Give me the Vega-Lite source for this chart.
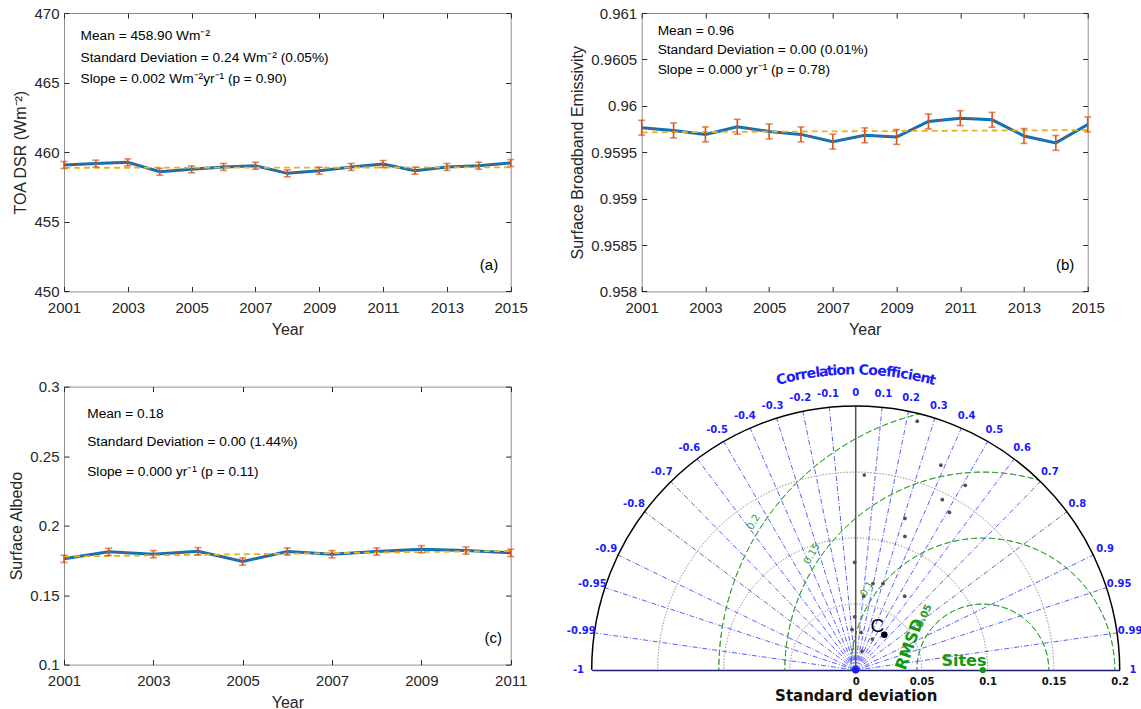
{
 "$schema": "https://vega.github.io/schema/vega-lite/v6.json",
 "background": "white",
 "padding": {"left": 8, "top": 5, "right": 0, "bottom": 0},
 "spacing": 24.6,
 "config": {
  "font": "Liberation Sans",
  "view": {"stroke": "#8f8f8f", "strokeWidth": 1},
  "axis": {"grid": false, "domain": false, "tickColor": "#262626", "tickSize": -5, "tickWidth": 1, "labelFont": "Liberation Sans", "labelFontSize": 15, "labelColor": "#262626", "titleFont": "Liberation Sans", "titleFontSize": 16, "titleFontWeight": "normal", "titleColor": "#262626", "labelFlush": false, "labelOverlap": false},
  "axisX": {"labelPadding": 14, "titlePadding": 6},
  "axisY": {"labelPadding": 10, "titlePadding": 5}
 },
 "vconcat": [
  {"bounds": "flush", "spacing": 130.7, "hconcat": [
   {
    "width": 446.7, "height": 278.4,
    "data": {"values": [
     {"year": 2001, "value": 459.08, "err": 0.25},
     {"year": 2002, "value": 459.18, "err": 0.25},
     {"year": 2003, "value": 459.27, "err": 0.25},
     {"year": 2004, "value": 458.60, "err": 0.25},
     {"year": 2005, "value": 458.77, "err": 0.25},
     {"year": 2006, "value": 458.94, "err": 0.25},
     {"year": 2007, "value": 459.03, "err": 0.25},
     {"year": 2008, "value": 458.48, "err": 0.25},
     {"year": 2009, "value": 458.67, "err": 0.25},
     {"year": 2010, "value": 458.94, "err": 0.25},
     {"year": 2011, "value": 459.15, "err": 0.25},
     {"year": 2012, "value": 458.67, "err": 0.25},
     {"year": 2013, "value": 458.94, "err": 0.25},
     {"year": 2014, "value": 459.03, "err": 0.25},
     {"year": 2015, "value": 459.22, "err": 0.25}
    ]},
    "resolve": {"axis": {"x": "independent", "y": "independent"}},
    "layer": [
     {"mark": {"type": "line", "color": "#0072BD", "strokeWidth": 3},
      "encoding": {
       "x": {"field": "year", "type": "quantitative", "scale": {"domain": [2001, 2015], "nice": false, "zero": false}, "axis": {"values": [2001, 2003, 2005, 2007, 2009, 2011, 2013, 2015], "format": "d", "title": "Year"}},
       "y": {"field": "value", "type": "quantitative", "scale": {"domain": [450, 470], "nice": false, "zero": false}, "axis": {"values": [450, 455, 460, 465, 470], "format": "d", "title": "TOA DSR (Wm⁻²)"}}
      }},
     {"mark": {"type": "line", "color": "#D95319", "strokeWidth": 1, "strokeDash": [1, 1.5]},
      "encoding": {
       "x": {"field": "year", "type": "quantitative", "axis": {"orient": "top", "labels": false, "title": null, "values": [2001, 2003, 2005, 2007, 2009, 2011, 2013, 2015]}},
       "y": {"field": "value", "type": "quantitative", "axis": {"orient": "right", "labels": false, "title": null, "values": [450, 455, 460, 465, 470]}}
      }},
     {"data": {"values": [{"year": 2001, "trend": 458.88}, {"year": 2015, "trend": 458.91}]},
      "mark": {"type": "line", "color": "#EDB120", "strokeWidth": 1.8, "strokeDash": [6, 4]},
      "encoding": {"x": {"field": "year", "type": "quantitative", "axis": null}, "y": {"field": "trend", "type": "quantitative", "axis": null}}},
     {"mark": {"type": "errorbar", "color": "#D95319", "thickness": 1.6, "ticks": {"size": 7, "thickness": 1.6, "color": "#D95319"}, "rule": {"strokeWidth": 1.6, "color": "#D95319"}},
      "encoding": {"x": {"field": "year", "type": "quantitative", "axis": null}, "y": {"field": "value", "type": "quantitative", "axis": null}, "yError": {"field": "err"}}},
     {"data": {"values": [
       {"x": 2001.52, "y": 468.32, "t": "Mean = 458.90 Wm⁻²"},
       {"x": 2001.52, "y": 466.79, "t": "Standard Deviation = 0.24 Wm⁻² (0.05%)"},
       {"x": 2001.52, "y": 465.29, "t": "Slope = 0.002 Wm⁻²yr⁻¹ (p = 0.90)"}
      ]},
      "mark": {"type": "text", "align": "left", "baseline": "middle", "fontSize": 13.7, "color": "#000000"},
      "encoding": {"x": {"field": "x", "type": "quantitative", "axis": null}, "y": {"field": "y", "type": "quantitative", "axis": null}, "text": {"field": "t"}}},
     {"data": {"values": [{"x": 2014.32, "y": 451.9, "t": "(a)"}]},
      "mark": {"type": "text", "align": "center", "baseline": "middle", "fontSize": 15, "color": "#000000"},
      "encoding": {"x": {"field": "x", "type": "quantitative", "axis": null}, "y": {"field": "y", "type": "quantitative", "axis": null}, "text": {"field": "t"}}}
    ]
   },
   {
    "width": 446, "height": 278.4,
    "data": {"values": [
     {"year": 2001, "value": 0.959764, "err": 0.00008},
     {"year": 2002, "value": 0.959735, "err": 0.00008},
     {"year": 2003, "value": 0.959692, "err": 0.00008},
     {"year": 2004, "value": 0.959774, "err": 0.00008},
     {"year": 2005, "value": 0.959724, "err": 0.00008},
     {"year": 2006, "value": 0.959692, "err": 0.00008},
     {"year": 2007, "value": 0.959614, "err": 0.00008},
     {"year": 2008, "value": 0.959682, "err": 0.00008},
     {"year": 2009, "value": 0.959664, "err": 0.00008},
     {"year": 2010, "value": 0.959831, "err": 0.00008},
     {"year": 2011, "value": 0.959867, "err": 0.00008},
     {"year": 2012, "value": 0.959849, "err": 0.00008},
     {"year": 2013, "value": 0.959675, "err": 0.00008},
     {"year": 2014, "value": 0.959600, "err": 0.00008},
     {"year": 2015, "value": 0.959799, "err": 0.00008}
    ]},
    "resolve": {"axis": {"x": "independent", "y": "independent"}},
    "layer": [
     {"mark": {"type": "line", "color": "#0072BD", "strokeWidth": 3},
      "encoding": {
       "x": {"field": "year", "type": "quantitative", "scale": {"domain": [2001, 2015], "nice": false, "zero": false}, "axis": {"values": [2001, 2003, 2005, 2007, 2009, 2011, 2013, 2015], "format": "d", "title": "Year"}},
       "y": {"field": "value", "type": "quantitative", "scale": {"domain": [0.958, 0.961], "nice": false, "zero": false}, "axis": {"values": [0.958, 0.9585, 0.959, 0.9595, 0.96, 0.9605, 0.961], "format": "~g", "title": "Surface Broadband Emissivity"}}
      }},
     {"mark": {"type": "line", "color": "#D95319", "strokeWidth": 1, "strokeDash": [1, 1.5]},
      "encoding": {
       "x": {"field": "year", "type": "quantitative", "axis": {"orient": "top", "labels": false, "title": null, "values": [2001, 2003, 2005, 2007, 2009, 2011, 2013, 2015]}},
       "y": {"field": "value", "type": "quantitative", "axis": {"orient": "right", "labels": false, "title": null, "values": [0.958, 0.9585, 0.959, 0.9595, 0.96, 0.9605, 0.961]}}
      }},
     {"data": {"values": [{"year": 2001, "trend": 0.959714}, {"year": 2015, "trend": 0.959739}]},
      "mark": {"type": "line", "color": "#EDB120", "strokeWidth": 1.8, "strokeDash": [6, 4]},
      "encoding": {"x": {"field": "year", "type": "quantitative", "axis": null}, "y": {"field": "trend", "type": "quantitative", "axis": null}}},
     {"mark": {"type": "errorbar", "color": "#D95319", "thickness": 1.6, "ticks": {"size": 7, "thickness": 1.6, "color": "#D95319"}, "rule": {"strokeWidth": 1.6, "color": "#D95319"}},
      "encoding": {"x": {"field": "year", "type": "quantitative", "axis": null}, "y": {"field": "value", "type": "quantitative", "axis": null}, "yError": {"field": "err"}}},
     {"data": {"values": [
       {"x": 2001.5, "y": 0.960802, "t": "Mean = 0.96"},
       {"x": 2001.5, "y": 0.960605, "t": "Standard Deviation = 0.00 (0.01%)"},
       {"x": 2001.5, "y": 0.960381, "t": "Slope = 0.000 yr⁻¹ (p = 0.78)"}
      ]},
      "mark": {"type": "text", "align": "left", "baseline": "middle", "fontSize": 13.7, "color": "#000000"},
      "encoding": {"x": {"field": "x", "type": "quantitative", "axis": null}, "y": {"field": "y", "type": "quantitative", "axis": null}, "text": {"field": "t"}}},
     {"data": {"values": [{"x": 2014.29, "y": 0.95828, "t": "(b)"}]},
      "mark": {"type": "text", "align": "center", "baseline": "middle", "fontSize": 15, "color": "#000000"},
      "encoding": {"x": {"field": "x", "type": "quantitative", "axis": null}, "y": {"field": "y", "type": "quantitative", "axis": null}, "text": {"field": "t"}}}
    ]
   }
  ]},
  {"bounds": "flush", "spacing": 80.7, "hconcat": [
   {
    "width": 446.7, "height": 278,
    "data": {"values": [
     {"year": 2001, "value": 0.17608, "err": 0.0026},
     {"year": 2002, "value": 0.18110, "err": 0.0026},
     {"year": 2003, "value": 0.17943, "err": 0.0026},
     {"year": 2004, "value": 0.18158, "err": 0.0026},
     {"year": 2005, "value": 0.17416, "err": 0.0026},
     {"year": 2006, "value": 0.18134, "err": 0.0026},
     {"year": 2007, "value": 0.17943, "err": 0.0026},
     {"year": 2008, "value": 0.18134, "err": 0.0026},
     {"year": 2009, "value": 0.18301, "err": 0.0026},
     {"year": 2010, "value": 0.18206, "err": 0.0026},
     {"year": 2011, "value": 0.18038, "err": 0.0026}
    ]},
    "resolve": {"axis": {"x": "independent", "y": "independent"}},
    "layer": [
     {"mark": {"type": "line", "color": "#0072BD", "strokeWidth": 3},
      "encoding": {
       "x": {"field": "year", "type": "quantitative", "scale": {"domain": [2001, 2011], "nice": false, "zero": false}, "axis": {"values": [2001, 2003, 2005, 2007, 2009, 2011], "format": "d", "title": "Year"}},
       "y": {"field": "value", "type": "quantitative", "scale": {"domain": [0.1, 0.3], "nice": false, "zero": false}, "axis": {"values": [0.1, 0.15, 0.2, 0.25, 0.3], "format": "~g", "title": "Surface Albedo"}}
      }},
     {"mark": {"type": "line", "color": "#D95319", "strokeWidth": 1, "strokeDash": [1, 1.5]},
      "encoding": {
       "x": {"field": "year", "type": "quantitative", "axis": {"orient": "top", "labels": false, "title": null, "values": [2001, 2003, 2005, 2007, 2009, 2011]}},
       "y": {"field": "value", "type": "quantitative", "axis": {"orient": "right", "labels": false, "title": null, "values": [0.1, 0.15, 0.2, 0.25, 0.3]}}
      }},
     {"data": {"values": [{"year": 2001, "trend": 0.17775}, {"year": 2011, "trend": 0.1818}]},
      "mark": {"type": "line", "color": "#EDB120", "strokeWidth": 1.8, "strokeDash": [6, 4]},
      "encoding": {"x": {"field": "year", "type": "quantitative", "axis": null}, "y": {"field": "trend", "type": "quantitative", "axis": null}}},
     {"mark": {"type": "errorbar", "color": "#D95319", "thickness": 1.6, "ticks": {"size": 7, "thickness": 1.6, "color": "#D95319"}, "rule": {"strokeWidth": 1.6, "color": "#D95319"}},
      "encoding": {"x": {"field": "year", "type": "quantitative", "axis": null}, "y": {"field": "value", "type": "quantitative", "axis": null}, "yError": {"field": "err"}}},
     {"data": {"values": [
       {"x": 2001.52, "y": 0.2803, "t": "Mean = 0.18"},
       {"x": 2001.52, "y": 0.2604, "t": "Standard Deviation = 0.00 (1.44%)"},
       {"x": 2001.52, "y": 0.2383, "t": "Slope = 0.000 yr⁻¹ (p = 0.11)"}
      ]},
      "mark": {"type": "text", "align": "left", "baseline": "middle", "fontSize": 13.7, "color": "#000000"},
      "encoding": {"x": {"field": "x", "type": "quantitative", "axis": null}, "y": {"field": "y", "type": "quantitative", "axis": null}, "text": {"field": "t"}}},
     {"data": {"values": [{"x": 2010.61, "y": 0.1189, "t": "(c)"}]},
      "mark": {"type": "text", "align": "center", "baseline": "middle", "fontSize": 15, "color": "#000000"},
      "encoding": {"x": {"field": "x", "type": "quantitative", "axis": null}, "y": {"field": "y", "type": "quantitative", "axis": null}, "text": {"field": "t"}}}
    ]
   },
   {
    "width": 528, "height": 283.5,
    "view": {"stroke": null},
    "layer": [
     {"data": {"values": [{"cx": 0, "cy": 0, "r": 0.05, "t0": -90, "t1": 90}]},
      "mark": {"type": "arc", "filled": false, "stroke": "#9a9a9a", "strokeWidth": 1, "strokeDash": [1, 2], "strokeDashOffset": 0.155},
      "encoding": {
       "x": {"field": "cx", "type": "quantitative", "scale": {"domain": [-0.2, 0.2], "nice": false, "zero": false}, "axis": {"values": [0, 0.05, 0.1, 0.15, 0.2], "format": "~g", "ticks": false, "domain": true, "domainColor": "#1f1f6b", "domainWidth": 1.5, "labelFont": "DejaVu Sans", "labelFontWeight": "bold", "labelFontSize": 10, "labelColor": "#111111", "labelPadding": 6, "title": "Standard deviation", "titleFont": "DejaVu Sans", "titleFontWeight": "bold", "titleFontSize": 15, "titleColor": "#111111", "titlePadding": 2}},
       "y": {"field": "cy", "type": "quantitative", "scale": {"domain": [0, 0.21477], "nice": false, "zero": false}, "axis": null},
       "theta": {"field": "t0", "type": "quantitative", "stack": null, "scale": {"type": "linear", "domain": [-90, 90], "range": [-1.5707963, 1.5707963]}},
       "theta2": {"field": "t1"},
       "radius": {"field": "r", "type": "quantitative", "scale": {"type": "linear", "domain": [0, 0.2], "range": [0, 264], "zero": true}},
       "radius2": {"field": "r"}
      }},
     {"data": {"values": [{"cx": 0, "cy": 0, "r": 0.1, "t0": -90, "t1": 90}]},
      "mark": {"type": "arc", "filled": false, "stroke": "#9a9a9a", "strokeWidth": 1, "strokeDash": [1, 2], "strokeDashOffset": 1.31},
      "encoding": {
       "x": {"field": "cx", "type": "quantitative"}, "y": {"field": "cy", "type": "quantitative"},
       "theta": {"field": "t0", "type": "quantitative", "stack": null, "scale": {"type": "linear", "domain": [-90, 90], "range": [-1.5707963, 1.5707963]}},
       "theta2": {"field": "t1"},
       "radius": {"field": "r", "type": "quantitative", "scale": {"type": "linear", "domain": [0, 0.2], "range": [0, 264], "zero": true}},
       "radius2": {"field": "r"}
      }},
     {"data": {"values": [{"cx": 0, "cy": 0, "r": 0.15, "t0": -90, "t1": 90}]},
      "mark": {"type": "arc", "filled": false, "stroke": "#9a9a9a", "strokeWidth": 1, "strokeDash": [1, 2], "strokeDashOffset": 0.965},
      "encoding": {
       "x": {"field": "cx", "type": "quantitative"}, "y": {"field": "cy", "type": "quantitative"},
       "theta": {"field": "t0", "type": "quantitative", "stack": null, "scale": {"type": "linear", "domain": [-90, 90], "range": [-1.5707963, 1.5707963]}},
       "theta2": {"field": "t1"},
       "radius": {"field": "r", "type": "quantitative", "scale": {"type": "linear", "domain": [0, 0.2], "range": [0, 264], "zero": true}},
       "radius2": {"field": "r"}
      }},
     {"data": {"values": [{"cx": 0.0963, "cy": 0, "r": 0.05, "t0": -90, "t1": 90}]},
      "mark": {"type": "arc", "filled": false, "stroke": "#3aa63a", "strokeWidth": 1, "strokeDash": [6, 3], "strokeDashOffset": 2.655},
      "encoding": {
       "x": {"field": "cx", "type": "quantitative"}, "y": {"field": "cy", "type": "quantitative"},
       "theta": {"field": "t0", "type": "quantitative", "stack": null, "scale": {"type": "linear", "domain": [-90, 90], "range": [-1.5707963, 1.5707963]}},
       "theta2": {"field": "t1"},
       "radius": {"field": "r", "type": "quantitative", "scale": {"type": "linear", "domain": [0, 0.2], "range": [0, 264], "zero": true}},
       "radius2": {"field": "r"}
      }},
     {"data": {"values": [{"cx": 0.0963, "cy": 0, "r": 0.1, "t0": -90, "t1": 90}]},
      "mark": {"type": "arc", "filled": false, "stroke": "#3aa63a", "strokeWidth": 1, "strokeDash": [6, 3], "strokeDashOffset": 2.31},
      "encoding": {
       "x": {"field": "cx", "type": "quantitative"}, "y": {"field": "cy", "type": "quantitative"},
       "theta": {"field": "t0", "type": "quantitative", "stack": null, "scale": {"type": "linear", "domain": [-90, 90], "range": [-1.5707963, 1.5707963]}},
       "theta2": {"field": "t1"},
       "radius": {"field": "r", "type": "quantitative", "scale": {"type": "linear", "domain": [0, 0.2], "range": [0, 264], "zero": true}},
       "radius2": {"field": "r"}
      }},
     {"data": {"values": [{"cx": 0.0963, "cy": 0, "r": 0.15, "t0": -90, "t1": 16.54}]},
      "mark": {"type": "arc", "filled": false, "stroke": "#3aa63a", "strokeWidth": 1, "strokeDash": [6, 3], "strokeDashOffset": 3.82},
      "encoding": {
       "x": {"field": "cx", "type": "quantitative"}, "y": {"field": "cy", "type": "quantitative"},
       "theta": {"field": "t0", "type": "quantitative", "stack": null, "scale": {"type": "linear", "domain": [-90, 90], "range": [-1.5707963, 1.5707963]}},
       "theta2": {"field": "t1"},
       "radius": {"field": "r", "type": "quantitative", "scale": {"type": "linear", "domain": [0, 0.2], "range": [0, 264], "zero": true}},
       "radius2": {"field": "r"}
      }},
     {"data": {"values": [{"cx": 0.0963, "cy": 0, "r": 0.2, "t0": -90, "t1": -13.93}]},
      "mark": {"type": "arc", "filled": false, "stroke": "#3aa63a", "strokeWidth": 1, "strokeDash": [6, 3], "strokeDashOffset": 3.5},
      "encoding": {
       "x": {"field": "cx", "type": "quantitative"}, "y": {"field": "cy", "type": "quantitative"},
       "theta": {"field": "t0", "type": "quantitative", "stack": null, "scale": {"type": "linear", "domain": [-90, 90], "range": [-1.5707963, 1.5707963]}},
       "theta2": {"field": "t1"},
       "radius": {"field": "r", "type": "quantitative", "scale": {"type": "linear", "domain": [0, 0.2], "range": [0, 264], "zero": true}},
       "radius2": {"field": "r"}
      }},
     {"data": {"values": [
       {"ox": 0, "oy": 0, "ex": 0.02, "ey": 0.199}, {"ox": 0, "oy": 0, "ex": 0.04, "ey": 0.19596}, {"ox": 0, "oy": 0, "ex": 0.06, "ey": 0.19079}, {"ox": 0, "oy": 0, "ex": 0.08, "ey": 0.1833},
       {"ox": 0, "oy": 0, "ex": 0.1, "ey": 0.17321}, {"ox": 0, "oy": 0, "ex": 0.12, "ey": 0.16}, {"ox": 0, "oy": 0, "ex": 0.14, "ey": 0.14283}, {"ox": 0, "oy": 0, "ex": 0.16, "ey": 0.12},
       {"ox": 0, "oy": 0, "ex": 0.18, "ey": 0.08718}, {"ox": 0, "oy": 0, "ex": 0.19, "ey": 0.06245}, {"ox": 0, "oy": 0, "ex": 0.198, "ey": 0.02821},
       {"ox": 0, "oy": 0, "ex": -0.02, "ey": 0.199}, {"ox": 0, "oy": 0, "ex": -0.04, "ey": 0.19596}, {"ox": 0, "oy": 0, "ex": -0.06, "ey": 0.19079}, {"ox": 0, "oy": 0, "ex": -0.08, "ey": 0.1833},
       {"ox": 0, "oy": 0, "ex": -0.1, "ey": 0.17321}, {"ox": 0, "oy": 0, "ex": -0.12, "ey": 0.16}, {"ox": 0, "oy": 0, "ex": -0.14, "ey": 0.14283}, {"ox": 0, "oy": 0, "ex": -0.16, "ey": 0.12},
       {"ox": 0, "oy": 0, "ex": -0.18, "ey": 0.08718}, {"ox": 0, "oy": 0, "ex": -0.19, "ey": 0.06245}, {"ox": 0, "oy": 0, "ex": -0.198, "ey": 0.02821}
      ]},
      "mark": {"type": "rule", "color": "#4a4aff", "strokeWidth": 0.9, "strokeDash": [5, 2, 1, 2]},
      "encoding": {"x": {"field": "ox", "type": "quantitative"}, "y": {"field": "oy", "type": "quantitative"}, "x2": {"field": "ex"}, "y2": {"field": "ey"}}},
     {"data": {"values": [{"ox": 0, "oy": 0, "ex": 0, "ey": 0.2}]},
      "mark": {"type": "rule", "color": "#555555", "strokeWidth": 1.5},
      "encoding": {"x": {"field": "ox", "type": "quantitative"}, "y": {"field": "oy", "type": "quantitative"}, "x2": {"field": "ex"}, "y2": {"field": "ey"}}},
     {"data": {"values": [{"cx": 0, "cy": 0, "r": 0.2, "t0": -90, "t1": 90}]},
      "mark": {"type": "arc", "filled": false, "stroke": "#000000", "strokeWidth": 1.5},
      "encoding": {
       "x": {"field": "cx", "type": "quantitative"}, "y": {"field": "cy", "type": "quantitative"},
       "theta": {"field": "t0", "type": "quantitative", "stack": null, "scale": {"type": "linear", "domain": [-90, 90], "range": [-1.5707963, 1.5707963]}},
       "theta2": {"field": "t1"},
       "radius": {"field": "r", "type": "quantitative", "scale": {"type": "linear", "domain": [0, 0.2], "range": [0, 264], "zero": true}},
       "radius2": {"field": "r"}
      }},
     {"data": {"values": [
       {"lab": "-1", "lx": -0.21, "ly": 0}, {"lab": "1", "lx": 0.21, "ly": 0}, {"lab": "0", "lx": 0, "ly": 0.21},
       {"lab": "0.1", "lx": 0.021, "ly": 0.20895}, {"lab": "0.2", "lx": 0.042, "ly": 0.20576}, {"lab": "0.3", "lx": 0.063, "ly": 0.20033},
       {"lab": "0.4", "lx": 0.084, "ly": 0.19247}, {"lab": "0.5", "lx": 0.105, "ly": 0.18187}, {"lab": "0.6", "lx": 0.126, "ly": 0.168},
       {"lab": "0.7", "lx": 0.147, "ly": 0.14997}, {"lab": "0.8", "lx": 0.168, "ly": 0.126}, {"lab": "0.9", "lx": 0.189, "ly": 0.09154},
       {"lab": "0.95", "lx": 0.1995, "ly": 0.06557}, {"lab": "0.99", "lx": 0.2079, "ly": 0.02962},
       {"lab": "-0.1", "lx": -0.021, "ly": 0.20895}, {"lab": "-0.2", "lx": -0.042, "ly": 0.20576}, {"lab": "-0.3", "lx": -0.063, "ly": 0.20033},
       {"lab": "-0.4", "lx": -0.084, "ly": 0.19247}, {"lab": "-0.5", "lx": -0.105, "ly": 0.18187}, {"lab": "-0.6", "lx": -0.126, "ly": 0.168},
       {"lab": "-0.7", "lx": -0.147, "ly": 0.14997}, {"lab": "-0.8", "lx": -0.168, "ly": 0.126}, {"lab": "-0.9", "lx": -0.189, "ly": 0.09154},
       {"lab": "-0.95", "lx": -0.1995, "ly": 0.06557}, {"lab": "-0.99", "lx": -0.2079, "ly": 0.02962}
      ]},
      "mark": {"type": "text", "font": "DejaVu Sans", "fontWeight": "bold", "fontSize": 10, "color": "#1a1aff", "align": "center", "baseline": "middle"},
      "encoding": {"x": {"field": "lx", "type": "quantitative"}, "y": {"field": "ly", "type": "quantitative"}, "text": {"field": "lab"}}},
     {"data": {"values": [
       {"ch": "C", "x": -0.05614, "y": 0.21994}, {"ch": "o", "x": -0.04917, "y": 0.22162}, {"ch": "r", "x": -0.04363, "y": 0.22278},
       {"ch": "r", "x": -0.03916, "y": 0.2236}, {"ch": "e", "x": -0.03355, "y": 0.2245}, {"ch": "l", "x": -0.02869, "y": 0.22518},
       {"ch": "a", "x": -0.02416, "y": 0.22571}, {"ch": "t", "x": -0.01927, "y": 0.22618}, {"ch": "i", "x": -0.01587, "y": 0.22645},
       {"ch": "o", "x": -0.01097, "y": 0.22673}, {"ch": "n", "x": -0.00416, "y": 0.22696}, {"ch": "C", "x": 0.00606, "y": 0.22692},
       {"ch": "o", "x": 0.01323, "y": 0.22661}, {"ch": "e", "x": 0.02002, "y": 0.22612}, {"ch": "f", "x": 0.02531, "y": 0.22559},
       {"ch": "f", "x": 0.02903, "y": 0.22514}, {"ch": "i", "x": 0.03242, "y": 0.22468}, {"ch": "c", "x": 0.03691, "y": 0.22398},
       {"ch": "i", "x": 0.04136, "y": 0.22321}, {"ch": "e", "x": 0.04622, "y": 0.22223}, {"ch": "n", "x": 0.05285, "y": 0.22076},
       {"ch": "t", "x": 0.05798, "y": 0.21946}
      ]},
      "mark": {"type": "text", "font": "DejaVu Sans", "fontWeight": "bold", "fontSize": 14, "color": "#1a1aff", "align": "center", "baseline": "middle"},
      "encoding": {"x": {"field": "x", "type": "quantitative"}, "y": {"field": "y", "type": "quantitative"}, "text": {"field": "ch"},
       "angle": {"field": "x", "type": "quantitative", "scale": {"domain": [-0.1, 0.1], "range": [-25.5, 25.5]}}}},
     {"data": {"values": [
       {"sd": 0.0466, "cr": 0.1886}, {"sd": 0.0645, "cr": 0.1552}, {"sd": 0.083, "cr": 0.14}, {"sd": 0.0065, "cr": 0.1478},
       {"sd": 0.0656, "cr": 0.1291}, {"sd": 0.071, "cr": 0.1195}, {"sd": 0.0373, "cr": 0.1149}, {"sd": 0.0373, "cr": 0.1013},
       {"sd": -0.0008, "cr": 0.0817}, {"sd": 0.0131, "cr": 0.0656}, {"sd": 0.0207, "cr": 0.0656}, {"sd": 0.0061, "cr": 0.056},
       {"sd": 0.0371, "cr": 0.056}, {"sd": -0.0008, "cr": 0.0404}, {"sd": -0.0028, "cr": 0.0306}, {"sd": 0.004, "cr": 0.0285},
       {"sd": 0.0126, "cr": 0.0235}, {"sd": 0.0048, "cr": 0.0142}
      ]},
      "mark": {"type": "point", "filled": true, "shape": "circle", "size": 14, "color": "#505050", "opacity": 1},
      "encoding": {"x": {"field": "sd", "type": "quantitative"}, "y": {"field": "cr", "type": "quantitative"}}},
     {"data": {"values": [{"sd": 0.0217, "cr": 0.0268}]},
      "mark": {"type": "point", "filled": true, "shape": "circle", "size": 42, "color": "#000000", "opacity": 1},
      "encoding": {"x": {"field": "sd", "type": "quantitative"}, "y": {"field": "cr", "type": "quantitative"}}},
     {"data": {"values": [{"sd": 0.0164, "cr": 0.0333, "t": "C"}]},
      "mark": {"type": "text", "font": "Liberation Sans", "fontSize": 19, "color": "#000000", "align": "center", "baseline": "middle"},
      "encoding": {"x": {"field": "sd", "type": "quantitative"}, "y": {"field": "cr", "type": "quantitative"}, "text": {"field": "t"}}},
     {"data": {"values": [{"sd": 0, "cr": 0}]},
      "mark": {"type": "point", "filled": true, "shape": "circle", "size": 50, "color": "#1a1aff", "opacity": 1},
      "encoding": {"x": {"field": "sd", "type": "quantitative"}, "y": {"field": "cr", "type": "quantitative"}}},
     {"data": {"values": [{"sd": 0.0963, "cr": 0}]},
      "mark": {"type": "point", "filled": true, "shape": "circle", "size": 40, "color": "#119911", "opacity": 1},
      "encoding": {"x": {"field": "sd", "type": "quantitative"}, "y": {"field": "cr", "type": "quantitative"}}},
     {"data": {"values": [{"sd": 0.082, "cr": 0.0066, "t": "Sites"}]},
      "mark": {"type": "text", "font": "DejaVu Sans", "fontWeight": "bold", "fontSize": 16, "color": "#119911", "align": "center", "baseline": "middle"},
      "encoding": {"x": {"field": "sd", "type": "quantitative"}, "y": {"field": "cr", "type": "quantitative"}, "text": {"field": "t"}}},
     {"data": {"values": [{"sd": 0.0409, "cr": 0.0195, "t": "RMSD"}]},
      "mark": {"type": "text", "font": "DejaVu Sans", "fontWeight": "bold", "fontSize": 16, "color": "#119911", "align": "center", "baseline": "middle", "angle": 290},
      "encoding": {"x": {"field": "sd", "type": "quantitative"}, "y": {"field": "cr", "type": "quantitative"}, "text": {"field": "t"}}},
     {"data": {"values": [{"sd": 0.0517, "cr": 0.0409, "t": "0.05"}]},
      "mark": {"type": "text", "font": "DejaVu Sans", "fontWeight": "bold", "fontSize": 10, "color": "#2a9d2a", "align": "center", "baseline": "middle", "angle": 295},
      "encoding": {"x": {"field": "sd", "type": "quantitative"}, "y": {"field": "cr", "type": "quantitative"}, "text": {"field": "t"}}},
     {"data": {"values": [{"sd": -0.0773, "cr": 0.1121, "t": "0.2"}, {"sd": -0.0331, "cr": 0.0881, "t": "0.15"}, {"sd": 0.0085, "cr": 0.0615, "t": "0.1"}]},
      "mark": {"type": "text", "font": "DejaVu Sans", "fontSize": 10, "color": "#2a9d2a", "align": "center", "baseline": "middle", "angle": 300},
      "encoding": {"x": {"field": "sd", "type": "quantitative"}, "y": {"field": "cr", "type": "quantitative"}, "text": {"field": "t"}}}
    ]
   }
  ]}
 ]
}
